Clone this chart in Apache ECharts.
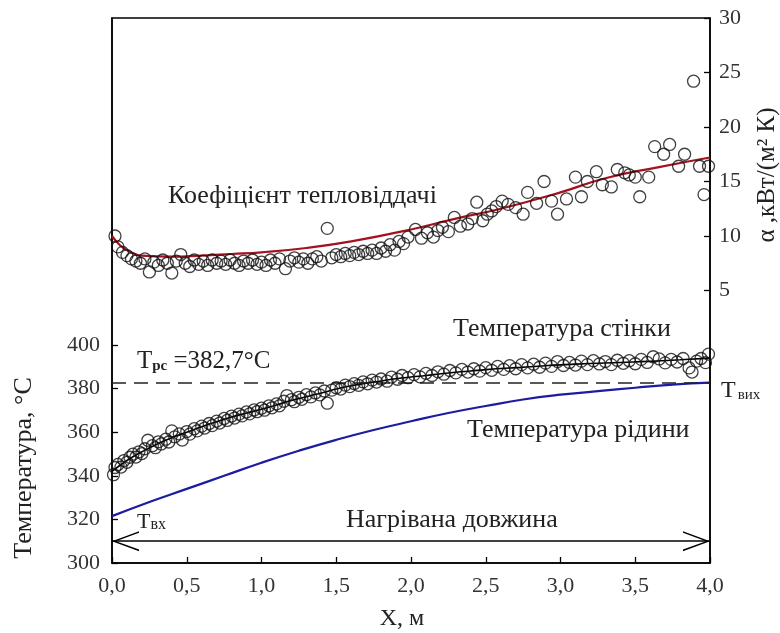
<!DOCTYPE html>
<html><head><meta charset="utf-8">
<script src="https://cdn.jsdelivr.net/npm/echarts@6/dist/echarts.min.js"></script>
<style>html,body{margin:0;padding:0;background:#fff}#c{width:780px;height:633px}</style>
</head><body><div id="c"></div>
<script>
// ---- data ----
const xTicks = [0, 0.5, 1.0, 1.5, 2.0, 2.5, 3.0, 3.5, 4.0];
const tempTicks = [300, 320, 340, 360, 380, 400];
const alphaTicks = [5, 10, 15, 20, 25, 30];
const Tpc = 382.7;
const arrowLevel = 310;

const wallPoints = [[0.01,340.5],[0.02,343.8],[0.04,345.2],[0.06,344.0],[0.08,347.0],[0.10,346.2],[0.12,348.5],[0.14,349.9],[0.16,348.6],[0.18,351.0],[0.20,350.2],[0.22,352.4],[0.24,356.3],[0.27,353.8],[0.29,352.9],[0.31,355.6],[0.33,354.6],[0.36,356.8],[0.38,355.5],[0.40,360.6],[0.42,357.9],[0.45,359.2],[0.47,356.4],[0.50,360.3],[0.52,359.1],[0.55,361.6],[0.57,360.6],[0.60,362.8],[0.62,361.9],[0.65,364.0],[0.67,363.0],[0.70,365.1],[0.72,364.2],[0.75,366.3],[0.77,365.4],[0.80,367.4],[0.82,366.5],[0.85,368.3],[0.87,367.5],[0.90,369.3],[0.92,368.4],[0.95,370.2],[0.97,369.4],[1.00,371.0],[1.02,370.1],[1.05,372.1],[1.07,371.2],[1.10,373.0],[1.12,372.1],[1.15,374.2],[1.17,376.8],[1.20,374.9],[1.22,374.0],[1.25,376.0],[1.27,375.1],[1.30,377.2],[1.33,376.2],[1.36,378.0],[1.39,377.1],[1.42,378.9],[1.44,373.3],[1.47,379.3],[1.50,380.4],[1.53,379.8],[1.56,381.6],[1.59,380.9],[1.62,382.3],[1.65,381.5],[1.68,383.1],[1.71,382.2],[1.74,383.9],[1.77,383.0],[1.80,384.4],[1.84,383.4],[1.87,385.3],[1.91,384.3],[1.94,386.0],[1.98,385.0],[2.02,386.4],[2.06,385.4],[2.10,387.0],[2.14,386.0],[2.18,387.7],[2.22,386.6],[2.26,388.3],[2.30,387.2],[2.34,388.8],[2.38,387.6],[2.42,389.1],[2.46,388.0],[2.50,389.6],[2.54,388.4],[2.58,390.2],[2.62,388.8],[2.66,390.5],[2.70,389.1],[2.74,391.0],[2.78,389.5],[2.82,391.2],[2.86,389.8],[2.90,391.7],[2.94,390.2],[2.98,392.4],[3.02,390.6],[3.06,392.0],[3.10,390.8],[3.14,392.6],[3.18,391.0],[3.22,392.8],[3.26,391.3],[3.30,392.4],[3.34,391.0],[3.38,393.0],[3.42,391.6],[3.46,392.8],[3.50,391.4],[3.54,393.4],[3.58,392.0],[3.62,394.6],[3.66,393.6],[3.70,391.8],[3.74,393.4],[3.78,392.2],[3.82,393.8],[3.86,389.5],[3.88,387.6],[3.91,392.6],[3.94,393.8],[3.97,391.9],[3.99,395.8]];

const wallFit = [[0,342],[0.1,347],[0.2,351],[0.3,354.5],[0.4,357.5],[0.5,360],[0.6,362.5],[0.7,364.8],[0.8,367],[0.9,368.8],[1.0,370.5],[1.1,372.5],[1.2,374.5],[1.3,376.3],[1.4,378],[1.5,379.8],[1.6,381.3],[1.7,382.5],[1.8,383.5],[1.9,384.5],[2.0,385.3],[2.1,386],[2.2,386.8],[2.3,387.5],[2.4,388.1],[2.5,388.7],[2.6,389.2],[2.7,389.6],[2.8,390],[2.9,390.5],[3.0,390.9],[3.2,391.5],[3.4,392],[3.6,392.5],[3.8,393.2],[4.0,394]];

const fluidCurve = [[0,321.5],[0.25,328],[0.5,334],[0.75,340],[1.0,346],[1.25,351.5],[1.5,356.5],[1.75,361],[2.0,365],[2.25,368.8],[2.5,372],[2.75,375],[3.0,377.2],[3.25,378.8],[3.5,380.4],[3.75,381.8],[4.0,382.7]];

const alphaPoints = [[0.02,10.0],[0.04,9.0],[0.07,8.5],[0.10,8.2],[0.13,7.9],[0.16,7.7],[0.19,7.5],[0.22,7.9],[0.25,6.7],[0.28,7.6],[0.31,7.3],[0.34,7.8],[0.37,7.5],[0.40,6.6],[0.43,7.7],[0.46,8.3],[0.49,7.5],[0.52,7.2],[0.55,7.8],[0.58,7.4],[0.61,7.7],[0.64,7.3],[0.67,7.8],[0.70,7.5],[0.73,7.7],[0.76,7.4],[0.79,7.8],[0.82,7.5],[0.85,7.3],[0.88,7.7],[0.91,7.5],[0.94,7.8],[0.97,7.4],[1.00,7.6],[1.03,7.3],[1.06,7.8],[1.09,7.5],[1.12,7.9],[1.16,7.0],[1.19,7.7],[1.22,8.0],[1.25,7.6],[1.28,7.9],[1.31,7.5],[1.34,7.9],[1.37,8.1],[1.40,7.7],[1.44,10.7],[1.47,8.0],[1.50,8.3],[1.53,8.1],[1.56,8.4],[1.59,8.2],[1.62,8.5],[1.65,8.3],[1.68,8.6],[1.71,8.4],[1.74,8.7],[1.77,8.4],[1.80,8.9],[1.83,8.6],[1.86,9.2],[1.89,8.7],[1.92,9.5],[1.95,9.3],[1.98,9.9],[2.03,10.6],[2.07,9.8],[2.11,10.3],[2.15,9.9],[2.18,10.5],[2.21,10.8],[2.25,10.4],[2.29,11.7],[2.33,10.9],[2.38,11.1],[2.41,11.6],[2.44,13.1],[2.48,11.4],[2.51,12.0],[2.54,12.3],[2.57,12.7],[2.61,13.2],[2.65,12.9],[2.70,12.6],[2.75,12.0],[2.78,14.0],[2.84,13.0],[2.89,15.0],[2.94,13.2],[2.98,12.0],[3.04,13.4],[3.10,15.4],[3.14,13.6],[3.18,15.0],[3.24,15.9],[3.28,14.7],[3.34,14.5],[3.38,16.1],[3.43,15.8],[3.46,15.6],[3.50,15.4],[3.53,13.6],[3.59,15.4],[3.63,18.2],[3.69,17.5],[3.73,18.4],[3.79,16.4],[3.83,17.5],[3.89,24.2],[3.93,16.4],[3.96,13.8],[3.99,16.4]];

const alphaFit = [[0,10.0],[0.05,9.2],[0.1,8.7],[0.2,8.2],[0.4,8.1],[0.6,8.2],[0.8,8.35],[1.0,8.5],[1.3,8.9],[1.6,9.5],[2.0,10.6],[2.3,11.6],[2.6,12.5],[3.0,14.0],[3.3,15.3],[3.65,16.3],[4.0,17.2]];

// ---- chart ----
const FONT = '"Liberation Serif", "Times New Roman", serif';
const chart = echarts.init(document.getElementById('c'), null, {renderer: 'canvas'});
const circleStyle = {color: 'rgba(0,0,0,0)', borderColor: '#111', borderWidth: 1.3};
const chevron = 'path://M10,-20 L10.02,-20 L10,-19.98 Z M10,0 L20,20 L18.4,20 L10,3 L1.6,20 L0,20 Z';

chart.setOption({
  animation: false,
  backgroundColor: '#fff',
  grid: {left: 112, right: 70, top: 18, bottom: 70, show: true, borderColor: '#000', borderWidth: 1.5},
  xAxis: {
    type: 'value', min: 0, max: 4, interval: 0.5,
    axisLine: {show: true, onZero: false, lineStyle: {color: '#000', width: 1.5}},
    axisTick: {show: true, inside: true, length: 6, lineStyle: {color: '#000', width: 1.3}},
    axisLabel: {customValues: xTicks, margin: 12, fontFamily: FONT, fontSize: 22, color: '#333',
      formatter: v => v.toFixed(1).replace('.', ',')},
    splitLine: {show: false}
  },
  yAxis: [{
    type: 'value', min: 300, max: 550, position: 'left',
    axisLine: {show: true, onZero: false, lineStyle: {color: '#000', width: 1.5}},
    axisTick: {show: true, inside: true, length: 6, customValues: tempTicks, lineStyle: {color: '#000', width: 1.3}},
    axisLabel: {customValues: tempTicks, margin: 12, fontFamily: FONT, fontSize: 22, color: '#333'},
    splitLine: {show: false}
  }, {
    type: 'value', min: -20, max: 30, position: 'right',
    axisLine: {show: true, onZero: false, lineStyle: {color: '#000', width: 1.5}},
    axisTick: {show: true, inside: true, length: 6, customValues: alphaTicks, lineStyle: {color: '#000', width: 1.3}},
    axisLabel: {customValues: alphaTicks, margin: 9, fontFamily: FONT, fontSize: 22, color: '#333'},
    splitLine: {show: false}
  }],
  series: [
    {
      type: 'line', name: 'fluid', yAxisIndex: 0, data: fluidCurve, smooth: true, showSymbol: false,
      lineStyle: {color: '#1c1ca0', width: 2.2}, z: 3,
      markLine: {
        silent: true, symbol: [chevron, chevron], symbolSize: [20, 54],
        lineStyle: {color: '#000', width: 1.5, type: 'solid'}, label: {show: false},
        data: [[{coord: [0, arrowLevel]}, {coord: [4, arrowLevel]}]]
      }
    },
    {
      type: 'line', name: 'wallFit', yAxisIndex: 0, data: wallFit, smooth: true, showSymbol: false,
      lineStyle: {color: '#000', width: 1.6}, z: 4,
      markLine: {
        silent: true, symbol: 'none', label: {show: false},
        lineStyle: {color: '#222', width: 1.5, type: [14, 8]},
        data: [{yAxis: Tpc}]
      }
    },
    {
      type: 'scatter', name: 'wall', yAxisIndex: 0, data: wallPoints, symbol: 'circle', symbolSize: 12,
      itemStyle: circleStyle, z: 5
    },
    {
      type: 'line', name: 'alphaFit', yAxisIndex: 1, data: alphaFit, smooth: true, showSymbol: false,
      lineStyle: {color: '#a3121f', width: 2.2}, z: 3
    },
    {
      type: 'scatter', name: 'alpha', yAxisIndex: 1, data: alphaPoints, symbol: 'circle', symbolSize: 12,
      itemStyle: circleStyle, z: 5
    }
  ],
  graphic: [
    {type: 'text', x: 24, y: 468, rotation: Math.PI / 2,
      style: {text: 'Температура, °C', font: '26px ' + FONT, fill: '#222', textAlign: 'center', textVerticalAlign: 'middle'}},
    {type: 'text', x: 767, y: 175, rotation: Math.PI / 2,
      style: {text: 'α ,кВт/(м² К)', font: '25px ' + FONT, fill: '#222', textAlign: 'center', textVerticalAlign: 'middle'}},
    {type: 'text', x: 402, y: 619,
      style: {text: 'X, м', font: '24px ' + FONT, fill: '#222', textAlign: 'center', textVerticalAlign: 'middle'}},
    {type: 'text', x: 168, y: 196,
      style: {text: 'Коефіцієнт тепловіддачі', font: '26px ' + FONT, fill: '#222', textAlign: 'left', textVerticalAlign: 'middle'}},
    {type: 'text', x: 453, y: 329,
      style: {text: 'Температура стінки', font: '26px ' + FONT, fill: '#222', textAlign: 'left', textVerticalAlign: 'middle'}},
    {type: 'text', x: 467, y: 430,
      style: {text: 'Температура рідини', font: '26px ' + FONT, fill: '#222', textAlign: 'left', textVerticalAlign: 'middle'}},
    {type: 'text', x: 346, y: 520,
      style: {text: 'Нагрівана довжина', font: '26px ' + FONT, fill: '#222', textAlign: 'left', textVerticalAlign: 'middle'}},
    {type: 'text', x: 137, y: 361,
      style: {text: '{t|T}{s|рс}{t| =382,7°C}', textAlign: 'left', textVerticalAlign: 'middle',
        rich: {t: {fontFamily: FONT, fontSize: 25, fill: '#222', color: '#222'},
               s: {fontFamily: FONT, fontSize: 15, fontWeight: 'bold', fill: '#222', color: '#222', padding: [10, 0, 0, 0]}}}},
    {type: 'text', x: 137, y: 522,
      style: {text: '{t|T}{s|вх}', textAlign: 'left', textVerticalAlign: 'middle',
        rich: {t: {fontFamily: FONT, fontSize: 22, fill: '#222', color: '#222'},
               s: {fontFamily: FONT, fontSize: 16, fill: '#222', color: '#222', padding: [6, 0, 0, 0]}}}},
    {type: 'text', x: 721, y: 391,
      style: {text: '{t|T}{s|вих}', textAlign: 'left', textVerticalAlign: 'middle',
        rich: {t: {fontFamily: FONT, fontSize: 24, fill: '#222', color: '#222'},
               s: {fontFamily: FONT, fontSize: 15, fill: '#222', color: '#222', padding: [8, 0, 0, 2]}}}}
  ]
});
</script>
</body></html>
